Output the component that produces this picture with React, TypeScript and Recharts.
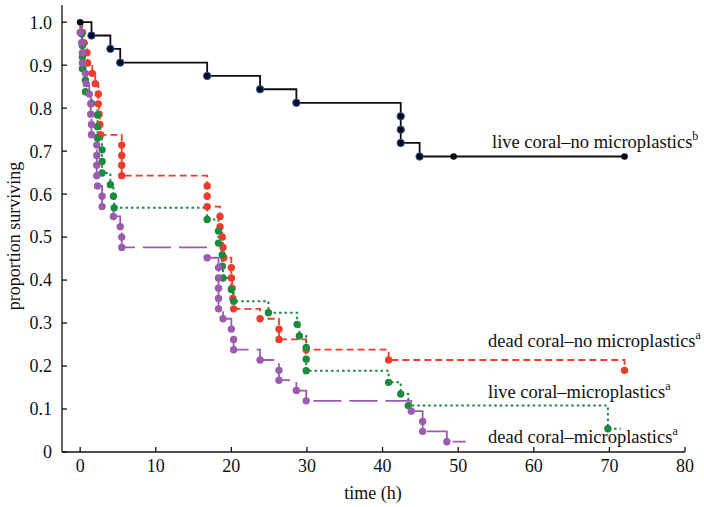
import { LineChart, Line, XAxis, YAxis } from "recharts";

// [time (h), proportion surviving, dot? 1 = death marker, 2 = censor marker, 0 = none]
const liveNoMp = [
  [0, 1, 2], [1.5, 0.969, 1], [4.0, 0.938, 1], [5.3, 0.906, 1], [16.8, 0.875, 1],
  [23.8, 0.844, 1], [28.6, 0.8125, 1], [42.4, 0.781, 1], [42.4, 0.75, 1], [42.4, 0.719, 1],
  [44.9, 0.6875, 1], [49.4, 0.6875, 2], [72, 0.6875, 2],
];

const deadNoMp = [
  [0, 1, 0], [0.3, 0.976, 1], [0.5, 0.952, 1], [0.9, 0.929, 1], [1.0, 0.905, 1],
  [1.6, 0.881, 1], [2.0, 0.857, 1], [2.4, 0.833, 1], [2.4, 0.81, 1], [2.5, 0.786, 1],
  [2.6, 0.762, 1], [2.7, 0.738, 1], [5.5, 0.714, 1], [5.5, 0.69, 1], [5.5, 0.667, 1],
  [5.5, 0.643, 1], [16.8, 0.619, 1], [16.8, 0.595, 1], [16.8, 0.571, 1], [18.5, 0.548, 1],
  [18.5, 0.524, 1], [18.8, 0.5, 1], [18.9, 0.476, 1], [19.0, 0.452, 1], [20.0, 0.429, 1],
  [20.0, 0.405, 1], [20.1, 0.381, 1], [20.2, 0.357, 1], [20.3, 0.333, 1], [23.8, 0.31, 1],
  [26.3, 0.286, 1], [26.3, 0.262, 1], [29.9, 0.238, 1], [40.8, 0.214, 1], [72, 0.19, 1],
];

const liveMp = [
  [0, 1, 0], [0.2, 0.973, 1], [0.3, 0.946, 1], [0.3, 0.919, 1], [0.3, 0.892, 1],
  [0.7, 0.865, 1], [0.7, 0.838, 1], [1.5, 0.811, 1], [2.3, 0.784, 1], [2.3, 0.757, 1],
  [2.3, 0.73, 1], [2.9, 0.703, 1], [2.9, 0.676, 1], [2.9, 0.649, 1], [4.0, 0.622, 1],
  [4.4, 0.595, 1], [4.5, 0.568, 1], [16.8, 0.541, 1], [18.3, 0.514, 1], [18.3, 0.486, 1],
  [18.8, 0.459, 1], [18.8, 0.432, 1], [18.9, 0.405, 1], [20.0, 0.378, 1], [20.3, 0.351, 1],
  [24.9, 0.324, 1], [28.7, 0.297, 1], [29.0, 0.27, 1], [29.9, 0.243, 1], [29.9, 0.216, 1],
  [29.9, 0.189, 1], [40.8, 0.162, 1], [42.4, 0.135, 1], [43.4, 0.108, 1], [69.8, 0.054, 1],
  [71.5, 0.054, 0],
];

const deadMp = [
  [0, 1, 0], [0.0, 0.976, 1], [0.2, 0.952, 1], [0.3, 0.929, 1], [0.3, 0.905, 1],
  [0.7, 0.881, 1], [0.8, 0.857, 1], [1.2, 0.833, 1], [1.4, 0.81, 1], [1.4, 0.786, 1],
  [1.5, 0.762, 1], [1.5, 0.738, 1], [2.2, 0.714, 1], [2.2, 0.69, 1], [2.2, 0.667, 1],
  [2.2, 0.643, 1], [2.3, 0.619, 1], [2.9, 0.595, 1], [2.9, 0.571, 1], [4.4, 0.548, 1],
  [5.3, 0.524, 1], [5.5, 0.5, 1], [5.5, 0.476, 1], [16.8, 0.452, 1], [18.3, 0.429, 1],
  [18.3, 0.405, 1], [18.3, 0.381, 1], [18.3, 0.357, 1], [18.3, 0.333, 1], [18.9, 0.31, 1],
  [20.0, 0.286, 1], [20.3, 0.262, 1], [20.3, 0.238, 1], [23.8, 0.214, 1], [26.3, 0.19, 1],
  [26.3, 0.167, 1], [28.6, 0.143, 1], [29.9, 0.119, 1], [43.8, 0.095, 1], [45.3, 0.071, 1],
  [45.3, 0.048, 1], [48.5, 0.024, 1], [51, 0.024, 0],
];

const xTicks = [0, 10, 20, 30, 40, 50, 60, 70, 80];
const yTicks = [0, 0.1, 0.2, 0.3, 0.4, 0.5, 0.6, 0.7, 0.8, 0.9, 1.0];

const SERIF = "'Liberation Serif', 'Times New Roman', serif";

const rows = (pts: number[][]) => pts.map(([t, s, m]) => ({ t, s, m }));

function makeDot(fill: string, stroke?: string) {
  return (props: any) => {
    const { cx, cy, payload, index } = props;
    if (!payload.m) return <g key={index} />;
    if (payload.m === 2) return <circle key={index} cx={cx} cy={cy} r={3.3} fill={fill} />;
    return (
      <circle key={index} cx={cx} cy={cy} r={3.7} fill={fill} stroke={stroke ?? fill} strokeWidth={stroke ? 1 : 0} />
    );
  };
}

export default function App() {
  const RED = "#ef3b2c";
  const GREEN = "#1b8a3e";
  const PURPLE = "#9b5cb0";
  const BLACK = "#0c0c14";

  const tickStyle = { fontFamily: SERIF, fontSize: 18, fill: "#111" };

  return (
    <div
      style={{
        position: "absolute",
        left: 0,
        top: 0,
        width: 704,
        height: 507,
        background: "#fff",
        fontFamily: SERIF,
      }}
    >
      <LineChart width={704} height={507} margin={{ top: 5, right: 19, bottom: 0, left: 0 }}>
        <XAxis
          dataKey="t"
          type="number"
          domain={[-2.4, 80]}
          ticks={xTicks}
          allowDataOverflow
          height={55}
          tickSize={-5}
          tickMargin={12}
          tick={tickStyle}
          stroke="#111"
          strokeWidth={1.3}
        />
        <YAxis
          type="number"
          domain={[0, 1.04]}
          ticks={yTicks}
          allowDataOverflow
          width={62}
          tickSize={-5}
          tickMargin={15}
          tick={tickStyle}
          tickFormatter={(v: number) => (v === 0 ? "0" : v.toFixed(1))}
          stroke="#111"
          strokeWidth={1.3}
        />
        <Line
          data={rows(deadNoMp)}
          dataKey="s"
          type="stepAfter"
          stroke={RED}
          strokeWidth={1.8}
          strokeDasharray="7 4"
          dot={makeDot(RED)}
          activeDot={false}
          isAnimationActive={false}
        />
        <Line
          data={rows(liveMp)}
          dataKey="s"
          type="stepAfter"
          stroke={GREEN}
          strokeWidth={2}
          strokeDasharray="2.5 3"
          dot={makeDot(GREEN)}
          activeDot={false}
          isAnimationActive={false}
        />
        <Line
          data={rows(deadMp)}
          dataKey="s"
          type="stepAfter"
          stroke={PURPLE}
          strokeWidth={1.8}
          strokeDasharray="28 8"
          dot={makeDot(PURPLE)}
          activeDot={false}
          isAnimationActive={false}
        />
        <Line
          data={rows(liveNoMp)}
          dataKey="s"
          type="stepAfter"
          stroke={BLACK}
          strokeWidth={1.8}
          dot={makeDot(BLACK, "#2a58b0")}
          activeDot={false}
          isAnimationActive={false}
        />
      </LineChart>
      <svg
        width={704}
        height={507}
        style={{ position: "absolute", left: 0, top: 0, pointerEvents: "none", fontFamily: SERIF }}
        fill="#111"
      >
        <text x={373} y={499} fontSize={18} textAnchor="middle">time (h)</text>
        <text x={20} y={236} fontSize={18} textAnchor="middle" transform="rotate(-90 20 236)">
          proportion surviving
        </text>
        <text x={492} y={148} fontSize={18.5}>
          live coral–no microplastics<tspan fontSize={12} dy={-8}>b</tspan>
        </text>
        <text x={488} y={347} fontSize={18.5}>
          dead coral–no microplastics<tspan fontSize={12} dy={-8}>a</tspan>
        </text>
        <text x={488} y={398} fontSize={18.5}>
          live coral–microplastics<tspan fontSize={12} dy={-8}>a</tspan>
        </text>
        <text x={488} y={443} fontSize={18.5}>
          dead coral–microplastics<tspan fontSize={12} dy={-8}>a</tspan>
        </text>
      </svg>
    </div>
  );
}
